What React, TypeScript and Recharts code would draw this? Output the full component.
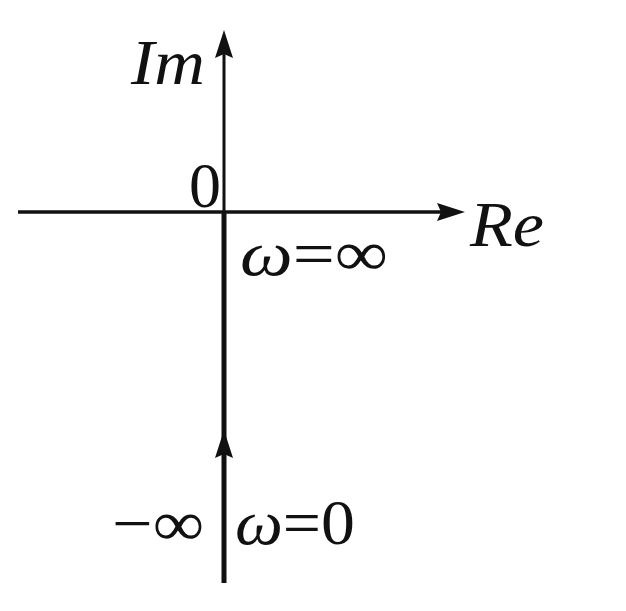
import React from 'react';
import { ComposedChart, Scatter, XAxis, YAxis } from 'recharts';

// Nyquist sketch: the plot runs up the negative imaginary axis from ω=0 (−∞) to ω=∞ (origin)
const realAxis = [
  { re: -2.06, im: 0 },
  { re: 2.3, im: 0 },
];
const imagAxis = [
  { re: 0, im: -3.71 },
  { re: 0, im: 1.6 },
];
const nyquistCurve = [
  { re: 0, im: -3.71 },
  { re: 0, im: 0 },
];
const arrowHeads = [
  { re: 2.41, im: 0, dir: 'right' },
  { re: 0, im: 1.82, dir: 'up' },
  { re: 0, im: -2.18, dir: 'up' },
];
const labels = [
  { re: -0.56, im: 1.5, text: 'Im', italic: true, width: 74 },
  { re: -0.19, im: 0.27, text: '0', italic: false, width: 0 },
  { re: 2.83, im: -0.12, text: 'Re', italic: true, width: 74 },
  { re: 0.9, im: -0.41, text: 'ω=∞', italic: false, width: 148 },
  { re: -0.66, im: -3.11, text: '−∞', italic: false, width: 92 },
  { re: 0.71, im: -3.1, text: 'ω=0', italic: false, width: 120 },
];

const W = 626;
const H = 611;
const INK = '#111';

const ArrowHead = (props: any) => {
  const { cx, cy, payload } = props;
  const len = 28;
  const half = 9;
  let pts = '';
  if (payload.dir === 'right') {
    pts = `${cx},${cy} ${cx - len},${cy - half} ${cx - len + 4},${cy} ${cx - len},${cy + half}`;
  } else {
    pts = `${cx},${cy} ${cx - half},${cy + len} ${cx},${cy + len - 4} ${cx + half},${cy + len}`;
  }
  return <polygon points={pts} fill={INK} />;
};

const Label = (props: any) => {
  const { cx, cy, payload } = props;
  const t: string = payload.text;
  const omega = t.startsWith('ω');
  return (
    <text
      x={cx}
      y={cy}
      textAnchor="middle"
      dominantBaseline="central"
      fontFamily="'Liberation Serif', 'DejaVu Serif', serif"
      fontStyle={payload.italic ? 'italic' : 'normal'}
      fontSize={64}
      fill={INK}
      textLength={payload.width || undefined}
      lengthAdjust="spacingAndGlyphs"
    >
      {omega ? (
        <>
          <tspan fontStyle="italic">ω</tspan>
          {t.slice(1)}
        </>
      ) : (
        t
      )}
    </text>
  );
};

const noDot = () => null;

export default function App() {
  return (
    <div style={{ width: W, height: H, background: '#fff' }}>
      <style>{'body{margin:0}'}</style>
      <ComposedChart width={W} height={H} margin={{ top: 0, right: 0, bottom: 0, left: 0 }}>
        <XAxis type="number" dataKey="re" domain={[-2.24, 4.02]} hide allowDataOverflow />
        <YAxis type="number" dataKey="im" domain={[-3.99, 2.12]} hide allowDataOverflow />
        <Scatter data={realAxis} dataKey="im" line={{ stroke: INK, strokeWidth: 3.5 }} shape={noDot} isAnimationActive={false} />
        <Scatter data={imagAxis} dataKey="im" line={{ stroke: INK, strokeWidth: 3 }} shape={noDot} isAnimationActive={false} />
        <Scatter data={nyquistCurve} dataKey="im" line={{ stroke: INK, strokeWidth: 5 }} shape={noDot} isAnimationActive={false} />
        <Scatter data={arrowHeads} dataKey="im" shape={ArrowHead} isAnimationActive={false} />
        <Scatter data={labels} dataKey="im" shape={Label} isAnimationActive={false} />
      </ComposedChart>
    </div>
  );
}
